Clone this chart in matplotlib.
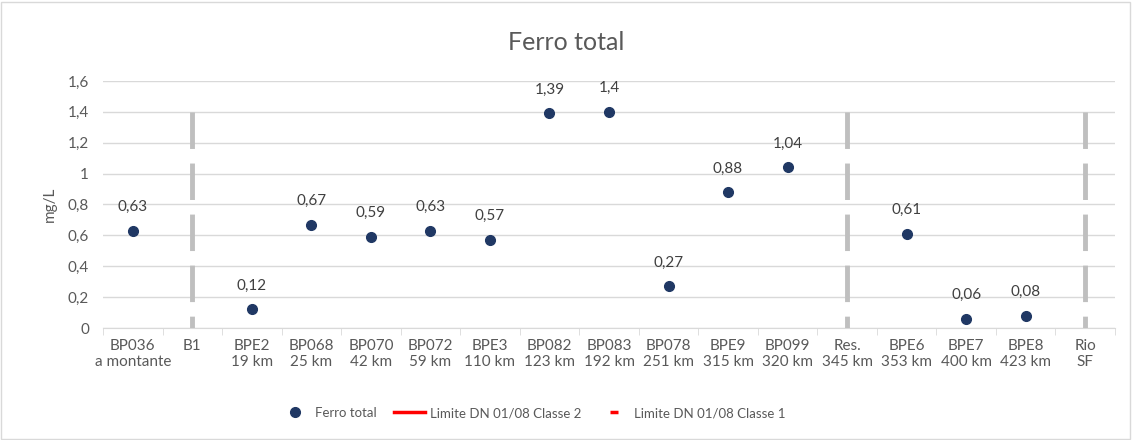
import matplotlib.pyplot as plt
from matplotlib.lines import Line2D
from matplotlib.patches import Rectangle
import numpy as np

plt.rcParams['font.family'] = ['Lato', 'DejaVu Sans']

categories = ['BP036\na montante', 'B1', 'BPE2\n19 km', 'BP068\n25 km', 'BP070\n42 km',
              'BP072\n59 km', 'BPE3\n110 km', 'BP082\n123 km', 'BP083\n192 km', 'BP078\n251 km',
              'BPE9\n315 km', 'BP099\n320 km', 'Res.\n345 km', 'BPE6\n353 km', 'BPE7\n400 km',
              'BPE8\n423 km', 'Rio\nSF']
ferro = [0.63, None, 0.12, 0.67, 0.59, 0.63, 0.57, 1.39, 1.40, 0.27, 0.88, 1.04,
         None, 0.61, 0.06, 0.08, None]
labels = ['0,63', '', '0,12', '0,67', '0,59', '0,63', '0,57', '1,39', '1,4', '0,27',
          '0,88', '1,04', '', '0,61', '0,06', '0,08', '']
divisores = ['B1', 'Res.\n345 km', 'Rio\nSF']
divisor_top = 1.4
yticks = [0, 0.2, 0.4, 0.6, 0.8, 1.0, 1.2, 1.4, 1.6]
ytick_labels = ['0', '0,2', '0,4', '0,6', '0,8', '1', '1,2', '1,4', '1,6']

txt = '#595959'
fig = plt.figure(figsize=(11.32, 4.4), dpi=100)
ax = fig.add_axes([103/1132, 1 - 328/440, (1115-103)/1132, (328-81)/440])

x = np.arange(len(categories))
for xi, v, lab in zip(x, ferro, labels):
    if v is None:
        continue
    ax.plot(xi, v, 'o', color='#203864', markersize=7, zorder=4)
    ax.annotate(lab, (xi, v), xytext=(0, 12), textcoords='offset points',
                ha='center', va='bottom', fontsize=11, color='#404040')

# linhas divisorias tracejadas (de cima para baixo)
for d in divisores:
    xi = categories.index(d)
    ax.plot([xi, xi], [divisor_top, 0], color='#bfbfbf', lw=3.5,
            dashes=(7.5, 3.0), solid_capstyle='butt', zorder=3)

ax.set_xlim(-0.5, len(categories) - 0.5)
ax.set_ylim(0, 1.6)
ax.set_yticks(yticks)
ax.set_yticklabels(ytick_labels)
ax.set_xticks(x)
ax.set_xticklabels(categories)
ax.set_xticks(np.arange(len(categories) + 1) - 0.5, minor=True)
ax.tick_params(axis='x', which='major', length=0, pad=8, labelsize=11, labelcolor=txt)
ax.tick_params(axis='x', which='minor', length=5, color='#d9d9d9')
ax.tick_params(axis='y', length=0, pad=10, labelsize=11, labelcolor=txt)
ax.grid(axis='y', color='#d9d9d9', lw=1)
ax.set_axisbelow(True)
for s in ['top', 'right', 'left']:
    ax.spines[s].set_visible(False)
ax.spines['bottom'].set_color('#d9d9d9')
ax.set_ylabel('mg/L', fontsize=11, color=txt, labelpad=8)

fig.text(0.5, 1 - 42/440, 'Ferro total', ha='center', va='center', fontsize=18, color=txt)

handles = [Line2D([], [], marker='o', color='#203864', ls='none', markersize=7),
           Line2D([], [], color='red', lw=2.5),
           Line2D([], [], marker='_', color='red', ls='none', markersize=6, markeredgewidth=2.5)]
fig.legend(handles, ['Ferro total', 'Limite DN 01/08 Classe 2', 'Limite DN 01/08 Classe 1'],
           loc='center', bbox_to_anchor=(0.4705, 1 - 413/440), ncol=3, frameon=False,
           fontsize=9.5, labelcolor=txt, handlelength=2.3, columnspacing=1.3, handletextpad=0.4)

fig.add_artist(Rectangle((1/1132, 1/440), 1129/1132, 437/440, transform=fig.transFigure,
                         fill=False, edgecolor='#d9d9d9', lw=1))

fig.savefig('out.png', dpi=100)
